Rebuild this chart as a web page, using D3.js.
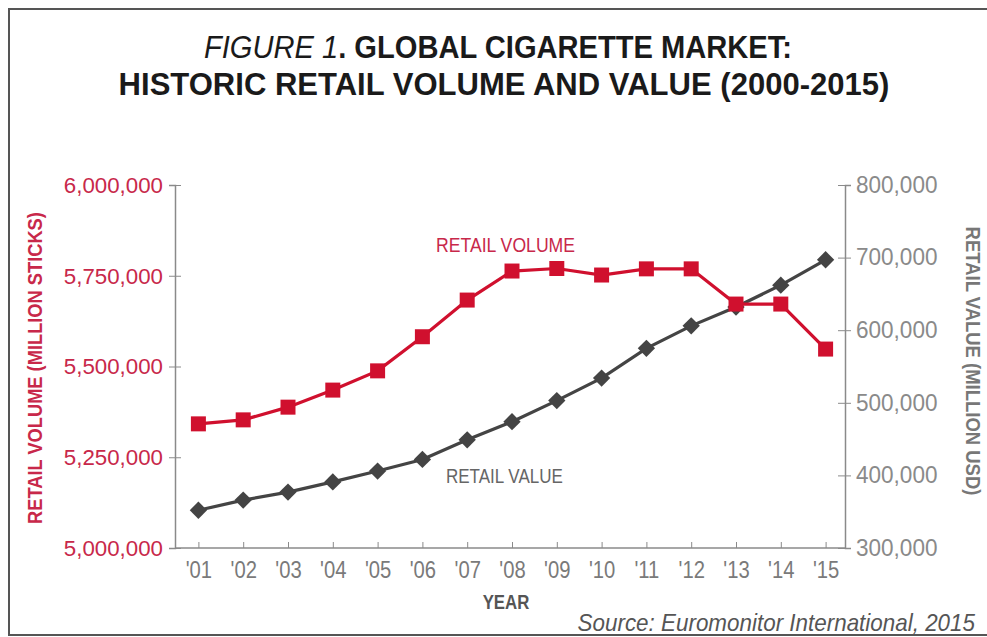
<!DOCTYPE html>
<html>
<head>
<meta charset="utf-8">
<script src="https://cdn.jsdelivr.net/npm/d3@7"></script>
<style>
  html, body { margin: 0; padding: 0; background: #fff; }
  svg { display: block; }
  text { font-family: "Liberation Sans", Arial, sans-serif; }
</style>
</head>
<body>
<svg id="chart" width="987" height="637"></svg>
<script>
// ---- data ----
const years = ["'01","'02","'03","'04","'05","'06","'07","'08","'09","'10","'11","'12","'13","'14","'15"];
const retailVolume = [5342000, 5353000, 5388000, 5435000, 5488000, 5582000, 5683000, 5763000, 5770000, 5752000, 5769000, 5769000, 5672000, 5672000, 5548000];
const retailValue = [352000, 366000, 377000, 391000, 406000, 422000, 449000, 474000, 503000, 534000, 575000, 606000, 632000, 662000, 697000];
const volumeTicks = [5000000, 5250000, 5500000, 5750000, 6000000];
const valueTicks = [300000, 400000, 500000, 600000, 700000, 800000];

const RED = "#d0102e";
const RED_TEXT = "#c8284a";
const DARK = "#444444";
const AXIS = "#8a8a8a";

const svg = d3.select("#chart");

// horizontally condense text (emulates a condensed typeface)
function squeeze(sel, sx) {
  sel.each(function () {
    const t = d3.select(this);
    const x = +(t.attr("x") || 0);
    const tr = t.attr("transform") || "";
    t.attr("x", x / sx).attr("transform", (tr + ` scale(${sx},1)`).trim());
  });
}

// frame
svg.append("path")
  .attr("d", "M 995 9 L 9 9 L 9 635 L 995 635")
  .attr("fill", "none").attr("stroke", "#555").attr("stroke-width", 2);

// title
const t1 = svg.append("text").attr("text-anchor", "middle")
  .attr("font-size", 32).attr("fill", "#1a1a1a").attr("font-weight", "bold")
  .attr("x", 498).attr("y", 58.5);
t1.append("tspan").text("FIGURE 1").attr("font-style", "italic").attr("font-weight", "normal");
t1.append("tspan").text(". GLOBAL CIGARETTE MARKET:");
squeeze(t1, 0.91);
const t2 = svg.append("text").attr("text-anchor", "middle").attr("x", 504).attr("y", 95)
  .attr("font-size", 32).attr("font-weight", "bold").attr("fill", "#1a1a1a")
  .text("HISTORIC RETAIL VOLUME AND VALUE (2000-2015)");
squeeze(t2, 0.97);

// scales
const x = d3.scalePoint().domain(years).range([176, 848]).padding(0.5);
const yL = d3.scaleLinear().domain([5000000, 6000000]).range([548, 185]);
const yR = d3.scaleLinear().domain([300000, 800000]).range([548, 185]);
const fmt = d3.format(",");

// left axis
const gL = svg.append("g").attr("transform", "translate(175,0)")
  .call(d3.axisLeft(yL).tickValues(volumeTicks).tickFormat(fmt).tickSize(6).tickPadding(6));
gL.selectAll(".tick line").attr("x2", -6).attr("x1", 6).attr("stroke", AXIS);
gL.select(".domain").attr("stroke", AXIS).attr("stroke-width", 1.5);
gL.selectAll(".tick text").attr("font-size", 23).attr("fill", RED_TEXT)
  .attr("font-family", "'Liberation Sans', Arial, sans-serif").call(squeeze, 0.97);

// right axis
const gR = svg.append("g").attr("transform", "translate(845,0)")
  .call(d3.axisRight(yR).tickValues(valueTicks).tickFormat(fmt).tickSize(6).tickPadding(6));
gR.selectAll(".tick line").attr("x1", -7).attr("x2", 6).attr("stroke", AXIS);
gR.select(".domain").attr("stroke", AXIS).attr("stroke-width", 1.5);
gR.selectAll(".tick text").attr("font-size", 23).attr("fill", "#8a8a8a").attr("x", 11)
  .attr("font-family", "'Liberation Sans', Arial, sans-serif").call(squeeze, 0.98);

// bottom axis
const gB = svg.append("g").attr("transform", "translate(0,548)")
  .call(d3.axisBottom(x).tickSizeInner(-6).tickSizeOuter(0).tickPadding(10));
gB.select(".domain").attr("stroke", AXIS).attr("stroke-width", 1.5).attr("d", "M175,0H845");
gB.selectAll(".tick line").attr("stroke", AXIS);
gB.selectAll(".tick text").attr("font-size", 23).attr("fill", "#7a7a7a").attr("dy", "0.85em")
  .attr("font-family", "'Liberation Sans', Arial, sans-serif").call(squeeze, 0.88);

// axis titles
svg.append("text").attr("text-anchor", "middle").attr("font-weight", "bold")
  .attr("font-size", 21).attr("fill", "#555").attr("x", 506).attr("y", 609).text("YEAR")
  .call(squeeze, 0.8);
svg.append("text").attr("text-anchor", "middle").attr("font-weight", "bold")
  .attr("font-size", 21).attr("fill", RED_TEXT)
  .attr("transform", "translate(42,368) rotate(-90)").text("RETAIL VOLUME (MILLION STICKS)")
  .call(squeeze, 0.87);
svg.append("text").attr("text-anchor", "middle").attr("font-weight", "bold")
  .attr("font-size", 21).attr("fill", "#777")
  .attr("transform", "translate(966,361) rotate(90)").text("RETAIL VALUE (MILLION USD)")
  .call(squeeze, 0.88);

// source
svg.append("text").attr("text-anchor", "end").attr("font-style", "italic")
  .attr("font-size", 23).attr("fill", "#555").attr("x", 975).attr("y", 631)
  .text("Source: Euromonitor International, 2015").call(squeeze, 0.975);

// value series
const valData = years.map((yr, i) => ({ yr, v: retailValue[i] }));
svg.append("path").datum(valData)
  .attr("fill", "none").attr("stroke", DARK).attr("stroke-width", 3.2)
  .attr("d", d3.line().x(d => x(d.yr)).y(d => yR(d.v)));
svg.selectAll(".dia").data(valData).enter().append("path")
  .attr("class", "dia")
  .attr("transform", d => `translate(${x(d.yr)},${yR(d.v)}) rotate(45)`)
  .attr("d", d3.symbol().type(d3.symbolSquare).size(150))
  .attr("fill", DARK);

// volume series
const volData = years.map((yr, i) => ({ yr, v: retailVolume[i] }));
svg.append("path").datum(volData)
  .attr("fill", "none").attr("stroke", RED).attr("stroke-width", 3.2)
  .attr("d", d3.line().x(d => x(d.yr)).y(d => yL(d.v)));
svg.selectAll(".sq").data(volData).enter().append("path")
  .attr("class", "sq")
  .attr("transform", d => `translate(${x(d.yr)},${yL(d.v)})`)
  .attr("d", d3.symbol().type(d3.symbolSquare).size(225))
  .attr("fill", RED);

// series labels
svg.append("text").attr("x", 436).attr("y", 252).attr("font-size", 21)
  .attr("fill", RED_TEXT).text("RETAIL VOLUME").call(squeeze, 0.84);
svg.append("text").attr("x", 446).attr("y", 483).attr("font-size", 21)
  .attr("fill", "#666").text("RETAIL VALUE").call(squeeze, 0.81);
</script>
</body>
</html>
